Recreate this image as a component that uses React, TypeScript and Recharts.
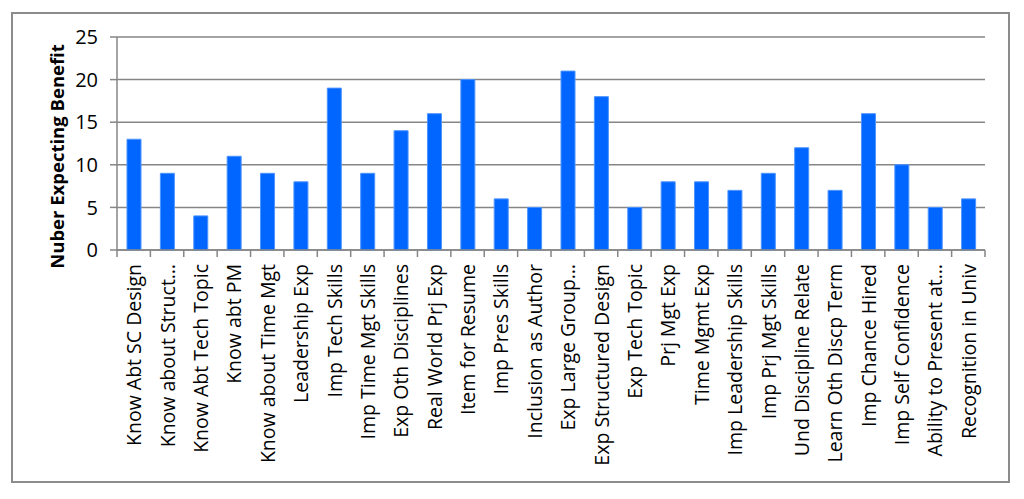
import { BarChart, Bar, XAxis, YAxis, CartesianGrid } from "recharts";

const categories = [
  "Know Abt SC Design",
  "Know about Struct…",
  "Know Abt Tech Topic",
  "Know abt PM",
  "Know about Time Mgt",
  "Leadership Exp",
  "Imp Tech Skills",
  "Imp Time Mgt Skills",
  "Exp Oth Disciplines",
  "Real World Prj Exp",
  "Item for Resume",
  "Imp Pres Skills",
  "Inclusion as Author",
  "Exp Large Group…",
  "Exp Structured Design",
  "Exp Tech Topic",
  "Prj Mgt Exp",
  "Time Mgmt Exp",
  "Imp Leadership Skills",
  "Imp Prj Mgt Skills",
  "Und Discipline Relate",
  "Learn Oth Discp Term",
  "Imp Chance Hired",
  "Imp Self Confidence",
  "Ability to Present at…",
  "Recognition in Univ",
];

const counts = [13, 9, 4, 11, 9, 8, 19, 9, 14, 16, 20, 6, 5, 21, 18, 5, 8, 8, 7, 9, 12, 7, 16, 10, 5, 6];

const yTicks = [0, 5, 10, 15, 20, 25];

const data = categories.map((name, i) => ({ name, value: counts[i] }));

const FONT = "'Open Sans', sans-serif";
const GRID = "#868686";

const CategoryTick = (props: any) => {
  const { x, y, payload, index } = props;
  const half = payload.offset ?? 0;
  const last = index === categories.length - 1;
  return (
    <g>
      <line x1={x - half} x2={x - half} y1={y} y2={y + 7} stroke={GRID} strokeWidth={1.5} />
      {last && <line x1={x + half} x2={x + half} y1={y} y2={y + 7} stroke={GRID} strokeWidth={1.5} />}
      <text
        x={x}
        y={y + 14}
        transform={`rotate(-90, ${x}, ${y + 14})`}
        textAnchor="end"
        dominantBaseline="central"
        fontFamily={FONT}
        fontSize={19.5}
        fill="#000"
      >
        {payload.value}
      </text>
    </g>
  );
};

const YTitle = (props: any) => {
  const { viewBox } = props;
  const cx = viewBox.x + 19;
  const cy = viewBox.y + viewBox.height / 2 + 13;
  return (
    <text
      x={cx}
      y={cy}
      transform={`rotate(-90, ${cx}, ${cy})`}
      textAnchor="middle"
      dominantBaseline="central"
      fontFamily={FONT}
      fontWeight="bold"
      fontSize={18.5}
      fill="#000"
    >
      Nuber Expecting Benefit
    </text>
  );
};

export default function App() {
  return (
    <div style={{ position: "absolute", left: 0, top: 0, width: 1024, height: 499, background: "#fff" }}>
      <div
        style={{
          position: "absolute",
          left: 11,
          top: 12,
          width: 995,
          height: 467,
          border: "2px solid #8c8c8c",
        }}
      />
      <div style={{ position: "absolute", left: 0, top: 0 }}>
        <BarChart
          width={1024}
          height={499}
          data={data}
          margin={{ top: 37, right: 39, bottom: 9, left: 37 }}
          barSize={14}
        >
          <CartesianGrid vertical={false} stroke={GRID} strokeWidth={1.5} />
          <XAxis
            dataKey="name"
            interval={0}
            height={240}
            tickSize={0}
            tickMargin={0}
            tickLine={false}
            axisLine={{ stroke: GRID, strokeWidth: 1.5 }}
            tick={<CategoryTick />}
          />
          <YAxis
            width={80}
            domain={[0, 25]}
            ticks={yTicks}
            interval={0}
            tickSize={7}
            tickMargin={12}
            axisLine={{ stroke: GRID, strokeWidth: 1.5 }}
            tickLine={{ stroke: GRID, strokeWidth: 1.5 }}
            tick={{ fill: "#000", fontSize: 20, fontFamily: FONT }}
            label={<YTitle />}
          />
          <Bar dataKey="value" fill="#0066FF" stroke="#4d94ff" strokeWidth={1} isAnimationActive={false} />
        </BarChart>
      </div>
    </div>
  );
}
